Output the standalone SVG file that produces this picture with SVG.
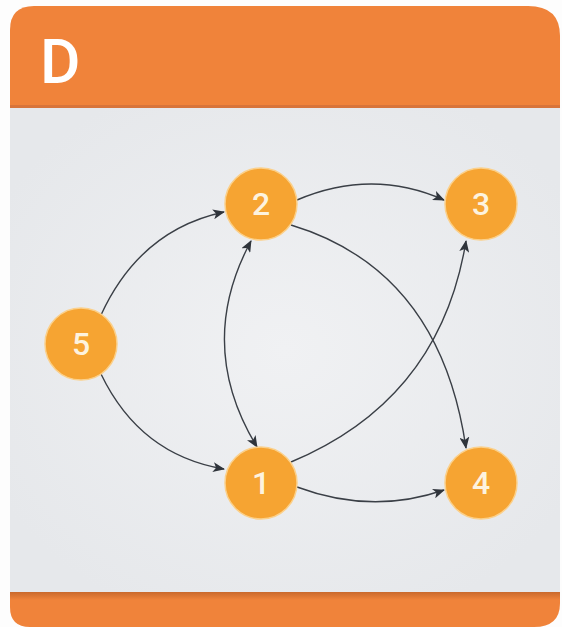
<svg xmlns="http://www.w3.org/2000/svg" width="562" height="627" viewBox="0 0 562 627">
<defs>
<marker id="ah" viewBox="0 0 12 10" refX="11" refY="5" markerWidth="12" markerHeight="10" markerUnits="userSpaceOnUse" orient="auto">
<path d="M0,0 L12,5 L0,10 L3,5 Z" fill="#2f343b"/>
</marker>
<marker id="as" viewBox="0 0 12 10" refX="1" refY="5" markerWidth="12" markerHeight="10" markerUnits="userSpaceOnUse" orient="auto">
<path d="M12,0 L0,5 L12,10 L9,5 Z" fill="#2f343b"/>
</marker>
<radialGradient id="bg" cx="0.5" cy="0.5" r="0.6">
<stop offset="0" stop-color="#f0f1f3"/>
<stop offset="1" stop-color="#e6e8eb"/>
</radialGradient>
<linearGradient id="fs" x1="0" y1="0" x2="0" y2="1">
<stop offset="0" stop-color="#c9692c"/>
<stop offset="1" stop-color="#f0833a"/>
</linearGradient>
</defs>
<style>
.node circle{fill:#f6a432;stroke:#fbd08a;stroke-width:1.5}
.node text{font-family:"Roboto","Liberation Sans",sans-serif;font-size:32px;font-weight:500;fill:#fdf3df;text-anchor:middle;dominant-baseline:central}
.edge{fill:none;stroke:#3a3f46;stroke-width:1.4}
</style>
<rect width="562" height="627" fill="#fdfdfd"/>
<g id="card">
<path d="M10,30 Q10,6 34,6 L528,6 Q560,6 560,36 L560,108 L10,108 Z" fill="#f0833a"/>
<rect x="10" y="105" width="550" height="3" fill="#d8743a"/>
<rect x="10" y="108" width="550" height="484" fill="url(#bg)"/>
<path d="M10,592 L560,592 L560,603 Q560,627 534,627 L30,627 Q10,627 10,607 Z" fill="#f0833a"/>
<rect x="10" y="592" width="550" height="8" fill="url(#fs)"/>
<text x="40" y="83" font-family="Roboto,'Liberation Sans',sans-serif" font-weight="500" font-size="62" fill="#ffffff">D</text>
</g>
<g id="connectors">
<path class="edge" d="M101,315 Q140,230 224,212" marker-end="url(#ah)"/>
<path class="edge" d="M101,374 Q140,455 224,469" marker-end="url(#ah)"/>
<path class="edge" d="M297,200 Q372,168 444,200" marker-end="url(#ah)"/>
<path class="edge" d="M297,487 Q372,515 444,490" marker-end="url(#ah)"/>
<path class="edge" d="M291,225 Q440,270 466,448" marker-end="url(#ah)"/>
<path class="edge" d="M291,462 Q440,400 466,241" marker-end="url(#ah)"/>
<path class="edge" d="M251,241 Q195,345 257,447" marker-start="url(#as)" marker-end="url(#ah)"/>
</g>
<g id="node-2" class="node"><circle cx="261" cy="204" r="36"/><text x="261" y="204">2</text></g>
<g id="node-3" class="node"><circle cx="481" cy="204" r="36"/><text x="481" y="204">3</text></g>
<g id="node-5" class="node"><circle cx="81" cy="344" r="36"/><text x="81" y="344">5</text></g>
<g id="node-1" class="node"><circle cx="261" cy="483" r="36"/><text x="261" y="483">1</text></g>
<g id="node-4" class="node"><circle cx="481" cy="483" r="36"/><text x="481" y="483">4</text></g>
</svg>
